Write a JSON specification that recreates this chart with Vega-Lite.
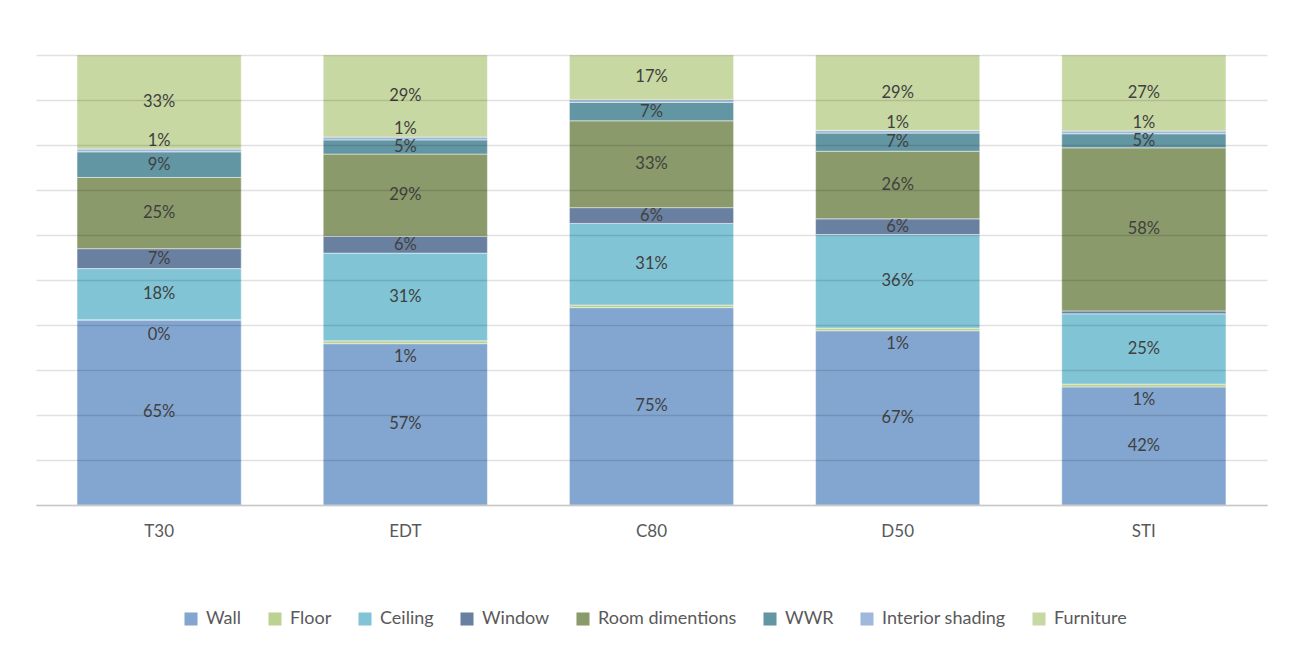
{
  "$schema": "https://vega.github.io/schema/vega-lite/v6.json",
  "width": 1231,
  "height": 450,
  "autosize": {"type": "none"},
  "padding": {"left": 36, "top": 55, "right": 29, "bottom": 143},
  "background": "white",
  "config": {
    "font": "Lato",
    "view": {"stroke": null}
  },
  "data": {
    "values": [
      {"metric": "T30", "factor": "Wall", "value": 65},
      {"metric": "T30", "factor": "Floor", "value": 0},
      {"metric": "T30", "factor": "Ceiling", "value": 18},
      {"metric": "T30", "factor": "Window", "value": 7},
      {"metric": "T30", "factor": "Room dimentions", "value": 25},
      {"metric": "T30", "factor": "WWR", "value": 9},
      {"metric": "T30", "factor": "Interior shading", "value": 1},
      {"metric": "T30", "factor": "Furniture", "value": 33},
      {"metric": "EDT", "factor": "Wall", "value": 57},
      {"metric": "EDT", "factor": "Floor", "value": 1},
      {"metric": "EDT", "factor": "Ceiling", "value": 31},
      {"metric": "EDT", "factor": "Window", "value": 6},
      {"metric": "EDT", "factor": "Room dimentions", "value": 29},
      {"metric": "EDT", "factor": "WWR", "value": 5},
      {"metric": "EDT", "factor": "Interior shading", "value": 1},
      {"metric": "EDT", "factor": "Furniture", "value": 29},
      {"metric": "C80", "factor": "Wall", "value": 75},
      {"metric": "C80", "factor": "Floor", "value": 1},
      {"metric": "C80", "factor": "Ceiling", "value": 31},
      {"metric": "C80", "factor": "Window", "value": 6},
      {"metric": "C80", "factor": "Room dimentions", "value": 33},
      {"metric": "C80", "factor": "WWR", "value": 7},
      {"metric": "C80", "factor": "Interior shading", "value": 1},
      {"metric": "C80", "factor": "Furniture", "value": 17},
      {"metric": "D50", "factor": "Wall", "value": 67},
      {"metric": "D50", "factor": "Floor", "value": 1},
      {"metric": "D50", "factor": "Ceiling", "value": 36},
      {"metric": "D50", "factor": "Window", "value": 6},
      {"metric": "D50", "factor": "Room dimentions", "value": 26},
      {"metric": "D50", "factor": "WWR", "value": 7},
      {"metric": "D50", "factor": "Interior shading", "value": 1},
      {"metric": "D50", "factor": "Furniture", "value": 29},
      {"metric": "STI", "factor": "Wall", "value": 42},
      {"metric": "STI", "factor": "Floor", "value": 1},
      {"metric": "STI", "factor": "Ceiling", "value": 25},
      {"metric": "STI", "factor": "Window", "value": 1},
      {"metric": "STI", "factor": "Room dimentions", "value": 58},
      {"metric": "STI", "factor": "WWR", "value": 5},
      {"metric": "STI", "factor": "Interior shading", "value": 1},
      {"metric": "STI", "factor": "Furniture", "value": 27}
    ]
  },
  "transform": [
    {"calculate": "indexof(['Wall','Floor','Ceiling','Window','Room dimentions','WWR','Interior shading','Furniture'], datum.factor)", "as": "k"},
    {"stack": "value", "groupby": ["metric"], "sort": [{"field": "k", "order": "ascending"}], "offset": "normalize", "as": ["y0", "y1"]},
    {"calculate": "(datum.y0 + datum.y1) / 2", "as": "mid"},
    {"calculate": "datum.value + '%'", "as": "label"}
  ],
  "encoding": {
    "x": {
      "field": "metric",
      "type": "nominal",
      "sort": ["T30", "EDT", "C80", "D50", "STI"],
      "scale": {"paddingInner": 0.333, "paddingOuter": 0.1667},
      "axis": {
        "title": null,
        "labelAngle": 0,
        "labelFontSize": 17,
        "labelColor": "#595959",
        "labelPadding": 18,
        "ticks": false,
        "domainColor": "#c8c8c8",
        "domainWidth": 1.5,
        "zindex": 1
      }
    }
  },
  "layer": [
    {
      "mark": {"type": "bar", "stroke": "white", "strokeWidth": 0.8, "strokeOpacity": 0.6},
      "encoding": {
        "y": {
          "field": "y0",
          "type": "quantitative",
          "scale": {"domain": [0, 1], "nice": false},
          "axis": {
            "title": null,
            "labels": false,
            "ticks": false,
            "domain": false,
            "values": [0, 0.1, 0.2, 0.3, 0.4, 0.5, 0.6, 0.7, 0.8, 0.9, 1],
            "gridColor": "#000000",
            "gridOpacity": 0.12,
            "gridWidth": 1.3,
            "zindex": 1
          }
        },
        "y2": {"field": "y1"},
        "color": {
          "field": "factor",
          "type": "nominal",
          "sort": ["Wall", "Floor", "Ceiling", "Window", "Room dimentions", "WWR", "Interior shading", "Furniture"],
          "scale": {
            "domain": ["Wall", "Floor", "Ceiling", "Window", "Room dimentions", "WWR", "Interior shading", "Furniture"],
            "range": ["#83a6d0", "#bcd293", "#80c4d5", "#6a80a0", "#8a9a6a", "#6396a3", "#9fb8dc", "#c8d8a3"]
          },
          "legend": {
            "title": null,
            "orient": "none",
            "legendX": 146,
            "legendY": 555,
            "direction": "horizontal",
            "symbolType": "square",
            "symbolSize": 170,
            "symbolStrokeWidth": 0,
            "labelFontSize": 18,
            "labelColor": "#595959",
            "labelOffset": 6,
            "columnPadding": 24,
            "labelLimit": 300
          }
        }
      }
    },
    {
      "transform": [
        {"filter": "datum.factor != 'Floor' && datum.factor != 'Interior shading' && !(datum.metric == 'STI' && datum.factor == 'Window')"}
      ],
      "mark": {"type": "text", "fontSize": 16.5, "color": "#404040", "baseline": "middle"},
      "encoding": {
        "y": {"field": "mid", "type": "quantitative"},
        "text": {"field": "label"}
      }
    },
    {
      "transform": [
        {"filter": "datum.factor == 'Floor' && datum.metric != 'C80'"}
      ],
      "mark": {"type": "text", "fontSize": 16.5, "color": "#404040", "baseline": "middle", "dy": 15},
      "encoding": {
        "y": {"field": "mid", "type": "quantitative"},
        "text": {"field": "label"}
      }
    },
    {
      "transform": [
        {"filter": "datum.factor == 'Interior shading' && datum.metric != 'C80'"}
      ],
      "mark": {"type": "text", "fontSize": 16.5, "color": "#404040", "baseline": "middle", "dy": -9},
      "encoding": {
        "y": {"field": "mid", "type": "quantitative"},
        "text": {"field": "label"}
      }
    }
  ]
}
